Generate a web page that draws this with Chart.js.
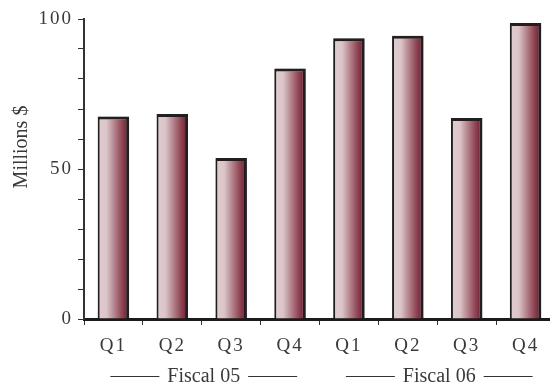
<!DOCTYPE html>
<html>
<head>
<meta charset="utf-8">
<script src="https://cdn.jsdelivr.net/npm/chart.js@4/dist/chart.umd.min.js"></script>
<style>
  html, body { margin: 0; padding: 0; background: #fff; overflow: hidden; }
  #wrap { width: 550px; height: 383px; overflow: hidden; }
  canvas { display: block; }
</style>
</head>
<body>
<div id="wrap"><canvas id="c" width="555" height="383"></canvas></div>
<script>
// Quarterly revenue, millions of dollars
const categories = ['Q1', 'Q2', 'Q3', 'Q4', 'Q1', 'Q2', 'Q3', 'Q4'];
const fiscalYears = ['Fiscal 05', 'Fiscal 06'];
const quartersPerYear = 4;
const revenue = [67.5, 68.3, 53.7, 83.5, 93.6, 94.4, 67.0, 98.7];
const yTickLabels = [0, 50, 100];
const yTitle = 'Millions $';

const FONT = "'Liberation Serif', 'DejaVu Serif', serif";
const TEXT = '#3a3a3a';
const BAR_PCT = 0.535;

// horizontal shading across each bar, light on the left, deep maroon on the right
function barGradient(ctx) {
  const chart = ctx.chart;
  if (ctx.dataIndex === undefined || !chart.chartArea || !chart.scales.x) return '#b88c94';
  const xs = chart.scales.x;
  const cx = xs.getPixelForValue(ctx.dataIndex);
  const w = (chart.chartArea.width / categories.length) * BAR_PCT;
  const g = chart.ctx.createLinearGradient(cx - w / 2, 0, cx + w / 2, 0);
  g.addColorStop(0.00, '#e0cdd0');
  g.addColorStop(0.28, '#dbc5c9');
  g.addColorStop(0.50, '#b98b93');
  g.addColorStop(0.75, '#934a59');
  g.addColorStop(1.00, '#67172a');
  return g;
}

const decorations = {
  id: 'decorations',
  beforeDraw(chart) {
    chart.ctx.letterSpacing = '2px';
  },
  beforeDatasetsDraw(chart) {
    const ctx = chart.ctx;
    ctx.save();
    ctx.shadowColor = 'rgba(0,0,0,0.28)';
    ctx.shadowBlur = 1.5;
  },
  afterDatasetsDraw(chart) {
    chart.ctx.restore();
  },
  afterDraw(chart) {
    const ctx = chart.ctx;
    const xs = chart.scales.x;
    ctx.save();
    ctx.letterSpacing = '0px';
    ctx.fillStyle = TEXT;
    ctx.strokeStyle = '#333';

    // vertical axis title
    ctx.save();
    ctx.translate(22, 147);
    ctx.rotate(-Math.PI / 2);
    ctx.font = '20px ' + FONT;
    ctx.textAlign = 'center';
    ctx.textBaseline = 'middle';
    ctx.fillText(yTitle, 0, 0);
    ctx.restore();

    // fiscal year group labels with rules on both sides
    ctx.font = '20px ' + FONT;
    ctx.textAlign = 'center';
    ctx.textBaseline = 'alphabetic';
    ctx.lineWidth = 1;
    fiscalYears.forEach((name, i) => {
      const first = i * quartersPerYear;
      const last = first + quartersPerYear - 1;
      const cx = (xs.getPixelForValue(first) + xs.getPixelForValue(last)) / 2 + 2;
      const tw = ctx.measureText(name).width;
      const baseY = 382;
      const lineY = 376.5;
      ctx.fillText(name, cx, baseY);
      const gap = 8, len = 49;
      ctx.beginPath();
      ctx.moveTo(cx - tw / 2 - gap - len, lineY);
      ctx.lineTo(cx - tw / 2 - gap, lineY);
      ctx.moveTo(cx + tw / 2 + gap, lineY);
      ctx.lineTo(cx + tw / 2 + gap + len, lineY);
      ctx.stroke();
    });
    ctx.restore();
  }
};

new Chart(document.getElementById('c'), {
  type: 'bar',
  data: {
    labels: categories,
    datasets: [{
      data: revenue,
      backgroundColor: barGradient,
      borderColor: '#231e20',
      borderWidth: { top: 3, right: 3, bottom: 0, left: 2 },
      borderSkipped: false,
      categoryPercentage: 1,
      barPercentage: BAR_PCT
    }]
  },
  options: {
    responsive: false,
    animation: false,
    devicePixelRatio: 1,
    layout: { padding: { top: 19, left: 0, right: 0, bottom: 0 } },
    plugins: {
      legend: { display: false },
      tooltip: { enabled: false }
    },
    scales: {
      x: {
        afterFit(scale) { scale.height = 64; },
        grid: {
          offset: true,
          drawOnChartArea: false,
          drawTicks: true,
          tickLength: 6,
          color: '#333',
          lineWidth: 1
        },
        border: { display: true, color: '#1c1a1b', width: 3 },
        ticks: {
          color: TEXT,
          font: { family: FONT, size: 19 },
          padding: 10,
          maxRotation: 0,
          autoSkip: false
        }
      },
      y: {
        min: 0,
        max: 100,
        afterFit(scale) { scale.width = 84; },
        grid: {
          drawOnChartArea: false,
          drawTicks: true,
          tickLength: 6,
          color: '#333',
          lineWidth: 1
        },
        border: { display: true, color: '#333', width: 2 },
        ticks: {
          stepSize: 10,
          autoSkip: false,
          color: TEXT,
          font: { family: FONT, size: 19 },
          padding: 5,
          callback: (v) => (yTickLabels.includes(v) ? String(v) : '')
        }
      }
    }
  },
  plugins: [decorations]
});
</script>
</body>
</html>
